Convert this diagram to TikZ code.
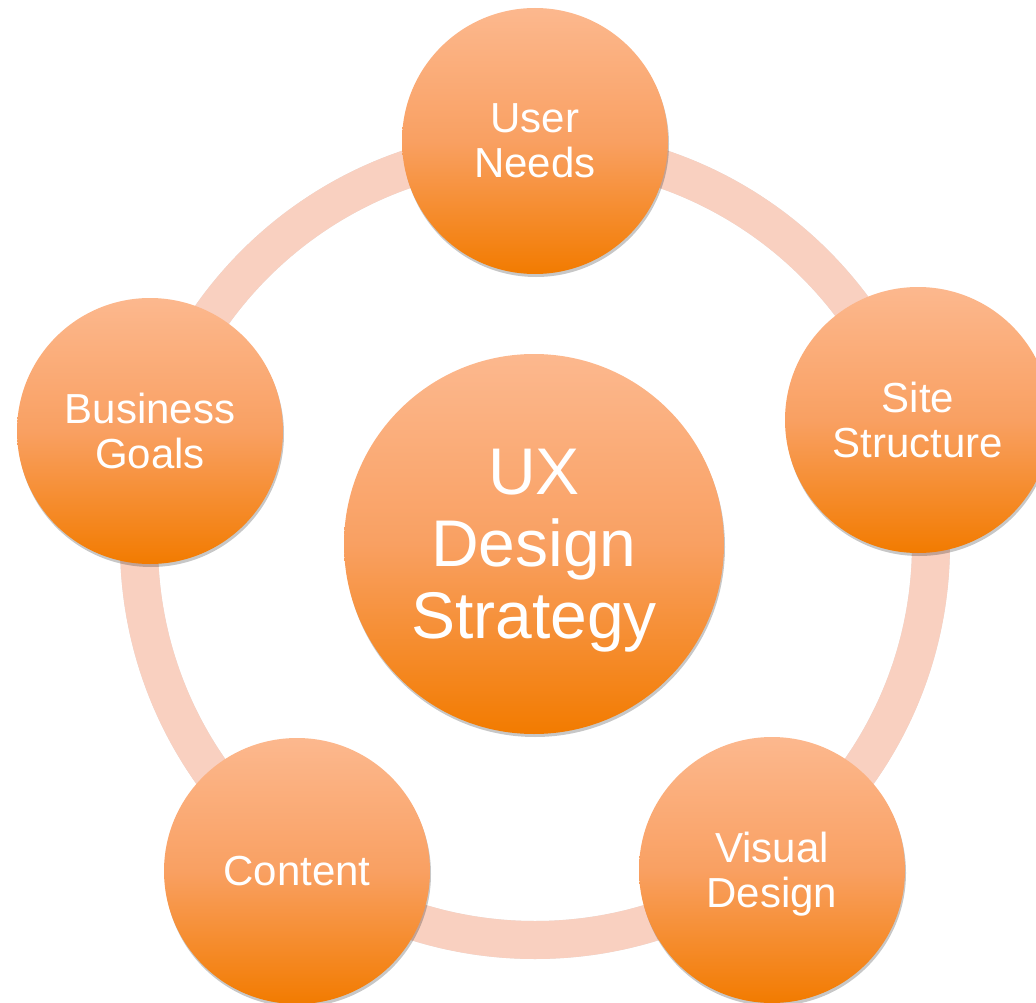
\documentclass[tikz,border=0pt]{standalone}
\usepackage{fontspec}
\setmainfont{Liberation Sans}
\usetikzlibrary{shapes.geometric, shadows, backgrounds, positioning}
\usepackage{xcolor}
\definecolor{petaltop}{RGB}{252,184,142}
\definecolor{petalmid}{RGB}{249,160,98}
\definecolor{petalbot}{RGB}{242,123,0}
\definecolor{ringpeach}{RGB}{249,208,192}
\tikzstyle{petal} = [circle, minimum size=266pt, inner sep=0pt, align=center, text=white,
    text depth=0pt, top color=petaltop, bottom color=petalbot, middle color=petalmid,
    drop shadow={shadow xshift=1pt, shadow yshift=-3pt, opacity=.22, fill=black},
    font=\fontsize{42}{45}\selectfont]
\tikzstyle{hub} = [petal, minimum size=380pt, font=\fontsize{66}{72}\selectfont]
\tikzstyle{ring} = [draw=ringpeach, line width=38pt]
\tikzstyle{ringshade} = [draw=black, opacity=.12, line width=38pt, xshift=1pt, yshift=-4pt]

\begin{document}
\begin{tikzpicture}[x=1pt, y=-1pt]
\useasboundingbox (0,0) rectangle (1036,1003);
\node (core) [hub] at (534,544) {UX\\Design\\Strategy};
\node (user) [petal] at (535,141) {User\\Needs};
\node (site) [petal] at (918,420) {Site\\Structure};
\node (visual) [petal] at (772,870) {Visual\\Design};
\node (content) [petal] at (297,871) {Content};
\node (business) [petal] at (150,431) {Business\\Goals};

% ring behind the five outer circles
\begin{pgfonlayer}{background}
\coordinate (loop) at (535,544);
\draw[ringshade] (loop) circle[radius=396pt];
\draw[ring] (loop) circle[radius=396pt];
\end{pgfonlayer}
\end{tikzpicture}
\end{document}
